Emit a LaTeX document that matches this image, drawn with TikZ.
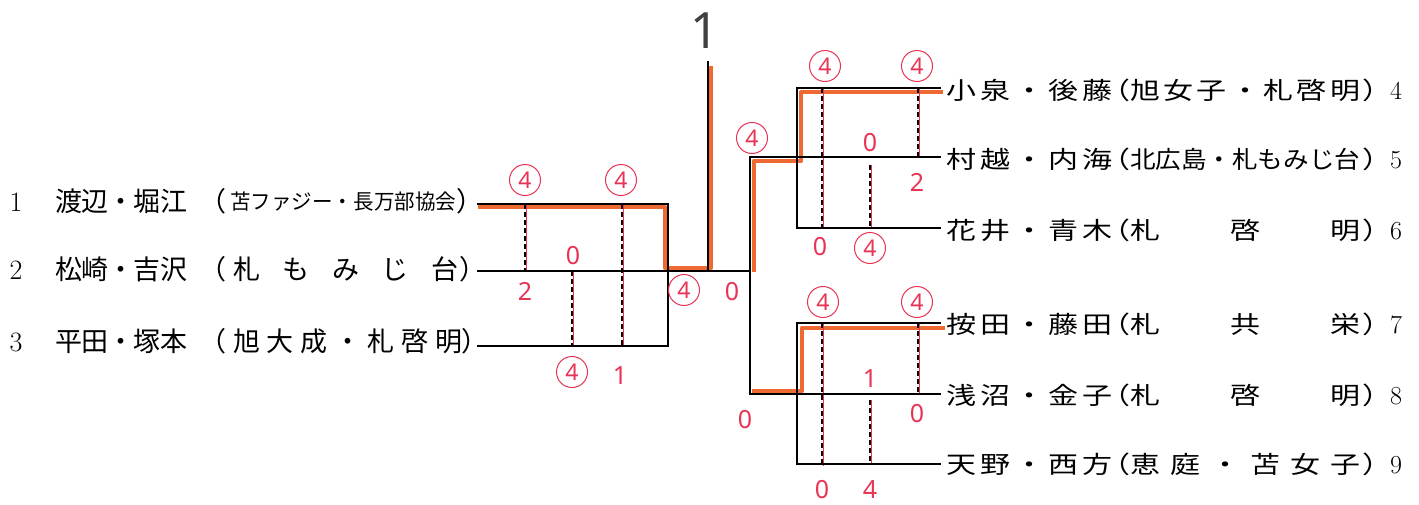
\documentclass[tikz,border=0pt]{standalone}
\usepackage{fontspec}
\usepackage{graphicx}
\newfontfamily\jp{Noto Sans CJK JP}
\newfontfamily\jpw[FakeStretch=1.25]{Noto Sans CJK JP}
\newfontfamily\hand{Noto Sans}
\definecolor{pen}{RGB}{232,52,84}
\definecolor{hl}{RGB}{238,106,50}
\newcommand\gp{\hskip 0pt plus 1fill minus 6pt}
\newcommand\spr[2]{\makebox[#1][s]{#2}}
\newcommand\fit[2]{\resizebox{#1}{\height}{#2}}
\tikzset{
  bline/.style={line width=2.2pt, black, line cap=rect},
  hlt/.style={line width=4.5pt, hl, line join=round},
  redl/.style={line width=0.8pt, pen},
  dsh/.style={line width=2pt, black, dash pattern=on 5pt off 3pt},
  lname/.style={anchor=base west, inner sep=0pt, font=\jp\fontsize{27}{27}\selectfont},
  lpar/.style={inner sep=0pt, font=\jp\fontsize{27}{27}\selectfont},
  lnum/.style={anchor=base, inner sep=0pt, font=\fontsize{28}{28}\selectfont},
  rname/.style={anchor=base west, inner sep=0pt, font=\jpw\fontsize{24}{24}\selectfont},
  rpar/.style={inner sep=0pt, font=\jpw\fontsize{24}{24}\selectfont},
  rnum/.style={anchor=base, inner sep=0pt, font=\fontsize{26}{26}\selectfont},
  score/.style={text=pen, inner sep=0pt, font=\hand\fontsize{25}{25}\selectfont},
  win/.style={text=pen, draw=pen, circle, line width=1pt, minimum size=31pt, inner sep=0pt, font=\hand\fontsize{23}{23}\selectfont},
}
\begin{document}
\begin{tikzpicture}[x=1pt,y=-1pt]
\useasboundingbox (0,0) rectangle (1419,504);
% coordinates of the bracket
\coordinate (a1) at (478,204);
\coordinate (b1) at (668,204);
\coordinate (a2) at (478,271);
\coordinate (c2) at (750,271);
\coordinate (a3) at (478,346);
\coordinate (b3) at (668,346);
\coordinate (top) at (708,62);
\coordinate (mid) at (708,271);
\coordinate (r0t) at (750,157);
\coordinate (r0b) at (750,394);
\coordinate (g1t) at (797,88);
\coordinate (g1e) at (940,88);
\coordinate (g1m) at (940,157);
\coordinate (g1b) at (797,228);
\coordinate (g1be) at (940,228);
\coordinate (g2t) at (797,323);
\coordinate (g2te) at (940,323);
\coordinate (g2m) at (940,394);
\coordinate (g2b) at (797,464);
\coordinate (g2be) at (940,464);

% orange highlights (winner paths)
\draw[hlt] (478,207) -- (665,207) -- (665,268) -- (711,268) -- (711,66);
\draw[hlt] (754,272) -- (754,161) -- (801,161) -- (801,92) -- (943,92);
\draw[hlt] (752,391) -- (802,391) -- (802,328) -- (945,328);

% dashed score lines
\foreach \x/\ya/\yb in {525/204/271, 622/204/346, 572/271/346, 822/88/228, 918/88/157, 870/165/228, 822/323/466, 918/323/394, 870/400/464}{
  \draw[redl] (\x+1,\ya) -- (\x+1,\yb);
  \draw[dsh] (\x,\ya) -- (\x,\yb);
}

% bracket lines
\draw[bline] (a1) -- (b1) -- (b3) -- (a3);
\draw[bline] (a2) -- (c2);
\draw[bline] (top) -- (mid);
\draw[bline] (r0t) -- (r0b);
\draw[bline] (r0t) -- (g1m);
\draw[bline] (g1e) -- (g1t) -- (g1b) -- (g1be);
\draw[bline] (r0b) -- (g2m);
\draw[bline] (g2te) -- (g2t) -- (g2b) -- (g2be);

% top label
\node[text=black!75, font=\hand\fontsize{50}{50}\selectfont, inner sep=0pt] (champ) at (705,31) {1};

% left entries
\node[lnum] (n1) at (16,211) {1};
\node[lname] (p1) at (55,211) {\spr{132pt}{渡\gp 辺\gp ・\gp 堀\gp 江}};
\node[lpar, anchor=base east] (o1) at (227,211) {（};
\node[anchor=base west, inner sep=0pt, font=\jp\fontsize{21}{21}\selectfont] (t1) at (230,209) {\fit{226pt}{苫ファジー・長万部協会}};
\node[lpar, anchor=base west] (c1) at (456,211) {）};

\node[lnum] (n2) at (16,279) {2};
\node[lname] (p2) at (55,279) {\spr{132pt}{松\gp 崎\gp ・\gp 吉\gp 沢}};
\node[lpar, anchor=base east] (o2) at (227,279) {（};
\node[lname] (t2) at (233,279) {\spr{225pt}{札\hfill も\hfill み\hfill じ\hfill 台}};
\node[lpar, anchor=base west] (c2t) at (459,279) {）};

\node[lnum] (n3) at (16,351) {3};
\node[lname] (p3) at (55,351) {\spr{132pt}{平\gp 田\gp ・\gp 塚\gp 本}};
\node[lpar, anchor=base east] (o3) at (227,351) {（};
\node[lname] (t3) at (233,351) {\spr{229pt}{旭\hfill 大\hfill 成\hfill ・\hfill 札\hfill 啓\hfill 明}};
\node[lpar, anchor=base west] (c3) at (461,351) {）};

% right entries
\node[rname] (p4) at (946,99) {\spr{166pt}{小\hfill 泉\hfill ・\hfill 後\hfill 藤}};
\node[rpar, anchor=base east] (o4) at (1131,99) {（};
\node[rname] (t4) at (1130,99) {\spr{230pt}{旭\hfill 女\hfill 子\hfill ・\hfill 札\hfill 啓\hfill 明}};
\node[rpar, anchor=base west] (c4) at (1362,99) {）};
\node[rnum] (n4) at (1396,99) {4};

\node[rname] (p5) at (946,168) {\spr{166pt}{村\hfill 越\hfill ・\hfill 内\hfill 海}};
\node[rpar, anchor=base east] (o5) at (1131,168) {（};
\node[rname] (t5) at (1130,168) {\fit{230pt}{北広島・札もみじ台}};
\node[rpar, anchor=base west] (c5) at (1362,168) {）};
\node[rnum] (n5) at (1396,168) {5};

\node[rname] (p6) at (946,239) {\spr{166pt}{花\hfill 井\hfill ・\hfill 青\hfill 木}};
\node[rpar, anchor=base east] (o6) at (1131,239) {（};
\node[rname] (t6) at (1130,239) {\spr{230pt}{札\hfill 啓\hfill 明}};
\node[rpar, anchor=base west] (c6) at (1362,239) {）};
\node[rnum] (n6) at (1396,239) {6};

\node[rname] (p7) at (946,333) {\spr{166pt}{按\hfill 田\hfill ・\hfill 藤\hfill 田}};
\node[rpar, anchor=base east] (o7) at (1131,333) {（};
\node[rname] (t7) at (1130,333) {\spr{230pt}{札\hfill 共\hfill 栄}};
\node[rpar, anchor=base west] (c7) at (1362,333) {）};
\node[rnum] (n7) at (1396,333) {7};

\node[rname] (p8) at (946,404) {\spr{166pt}{浅\hfill 沼\hfill ・\hfill 金\hfill 子}};
\node[rpar, anchor=base east] (o8) at (1131,404) {（};
\node[rname] (t8) at (1130,404) {\spr{230pt}{札\hfill 啓\hfill 明}};
\node[rpar, anchor=base west] (c8) at (1362,404) {）};
\node[rnum] (n8) at (1396,404) {8};

\node[rname] (p9) at (946,473) {\spr{166pt}{天\hfill 野\hfill ・\hfill 西\hfill 方}};
\node[rpar, anchor=base east] (o9) at (1131,473) {（};
\node[rname] (t9) at (1130,473) {\spr{230pt}{恵\hfill 庭\hfill ・\hfill 苫\hfill 女\hfill 子}};
\node[rpar, anchor=base west] (c9) at (1362,473) {）};
\node[rnum] (n9) at (1396,473) {9};

% scores (left block)
\node[win] (s1) at (525,180) {4};
\node[win] (s2) at (621,180) {4};
\node[score] (s3) at (573,256) {0};
\node[score] (s4) at (525,291) {2};
\node[win] (s5) at (572,372) {4};
\node[score] (s6) at (620,376) {1};
\node[win] (s7) at (684,290) {4};
\node[score] (s8) at (732,292) {0};
% scores (right top)
\node[win] (s9) at (752,138) {4};
\node[win] (s10) at (825,66) {4};
\node[win] (s11) at (917,66) {4};
\node[score] (s12) at (870,143) {0};
\node[score] (s13) at (917,182) {2};
\node[score] (s14) at (820,247) {0};
\node[win] (s15) at (870,248) {4};
% scores (right bottom)
\node[win] (s16) at (823,302) {4};
\node[win] (s17) at (917,302) {4};
\node[score] (s18) at (870,379) {1};
\node[score] (s19) at (917,414) {0};
\node[score] (s20) at (745,420) {0};
\node[score] (s21) at (822,490) {0};
\node[score] (s22) at (870,490) {4};
\end{tikzpicture}
\end{document}
